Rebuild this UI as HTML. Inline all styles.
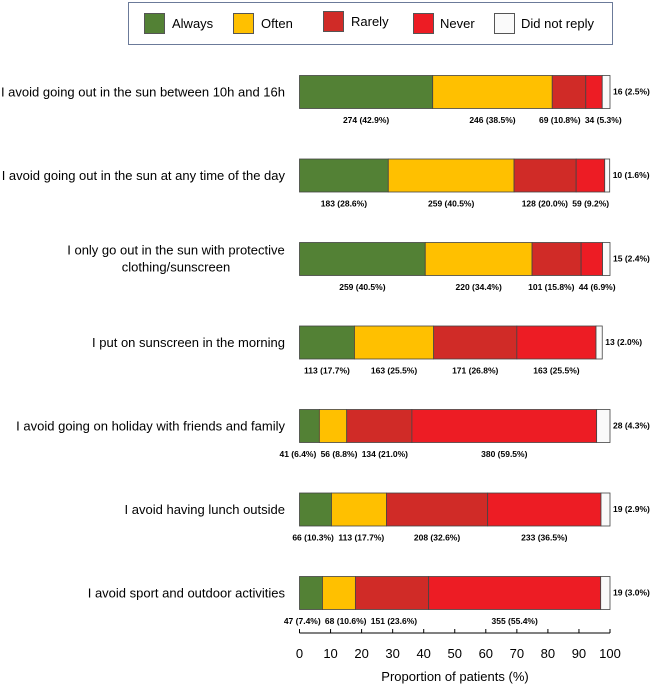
<!DOCTYPE html>
<html><head><meta charset="utf-8">
<style>
html,body{margin:0;padding:0;background:#fff;}
svg{display:block;font-family:"Liberation Sans",Arial,sans-serif;}
</style></head>
<body>
<svg id="chart" width="650" height="686" viewBox="0 0 650 686" xmlns="http://www.w3.org/2000/svg">
  <g>
    <rect x="128.5" y="2.5" width="484" height="42" fill="#fff" stroke="#6b7a99" stroke-width="1"/>
    <g><rect x="144.5" y="13.5" width="20" height="20" fill="#538135" stroke="#555"/><text x="172" y="28" font-size="13">Always</text></g>
    <g><rect x="233.5" y="13.5" width="20" height="20" fill="#FFC000" stroke="#555"/><text x="261" y="28" font-size="13">Often</text></g>
    <g><rect x="323.5" y="11.5" width="20" height="20" fill="#D02B27" stroke="#555"/><text x="351" y="26" font-size="13">Rarely</text></g>
    <g><rect x="413.5" y="13.5" width="20" height="20" fill="#ED1C24" stroke="#555"/><text x="440" y="28" font-size="13">Never</text></g>
    <g><rect x="494.5" y="13.5" width="20" height="20" fill="#fafafa" stroke="#555"/><text x="521" y="28" font-size="13">Did not reply</text></g>
  </g>
  <g id="bars"></g>
  <g id="axis"></g>
  <text x="455" y="681" font-size="13" text-anchor="middle">Proportion of patients (%)</text>
</svg>
<script>
const categories = [
  ["I avoid going out in the sun between 10h and 16h"],
  ["I avoid going out in the sun at any time of the day"],
  ["I only go out in the sun with protective","clothing/sunscreen"],
  ["I put on sunscreen in the morning"],
  ["I avoid going on holiday with friends and family"],
  ["I avoid having lunch outside"],
  ["I avoid sport and outdoor activities"]
];
const seriesNames = ["always","often","rarely","never","did-not-reply"];
const always = [42.9,28.6,40.5,17.7,6.4,10.3,7.4];
const often = [38.5,40.5,34.4,25.5,8.8,17.7,10.6];
const rarely = [10.8,20.0,15.8,26.8,21.0,32.6,23.6];
const never = [5.3,9.2,6.9,25.5,59.5,36.5,55.4];
const noReply = [2.5,1.6,2.4,2.0,4.3,2.9,3.0];
const countAlways = [274,183,259,113,41,66,47];
const countOften = [246,259,220,163,56,113,68];
const countRarely = [69,128,101,171,134,208,151];
const countNever = [34,59,44,163,380,233,355];
const countNoReply = [16,10,15,13,28,19,19];
const ticks = [0,10,20,30,40,50,60,70,80,90,100];

const colors = ["#538135","#FFC000","#D02B27","#ED1C24","#fafafa"];
const NS = "http://www.w3.org/2000/svg";
const x0 = 299.5, x1 = 610;
const xs = v => x0 + (x1 - x0) * v / 100;
const rowTop = i => 75 + i * 83.5;
const barH = 33;
const bars = document.getElementById('bars');
const axis = document.getElementById('axis');
function mk(tag, attrs, parent){const e=document.createElementNS(NS,tag);for(const k in attrs)e.setAttribute(k,attrs[k]);parent.appendChild(e);return e;}
function tw(s){let w=0;for(const c of s){if(/[0-9]/.test(c))w+=4.75;else if(c==='%')w+=7.6;else if(c==='('||c===')')w+=2.85;else w+=2.4;}return w;}

const vals = [always, often, rarely, never, noReply];
const counts = [countAlways, countOften, countRarely, countNever, countNoReply];

categories.forEach((cat, i) => {
  const top = rowTop(i);
  const g = mk('g', {}, bars);
  
  
  // category label
  const cy = top + barH/2;
  if (cat.length === 1) {
    const t = mk('text', {x: 285, y: cy + 5, 'font-size': 13, 'text-anchor': 'end'}, g);
    t.textContent = cat[0];
    
    
  } else {
    cat.forEach((line, k) => {
      const t = mk('text', {x: 176, y: cy - 4 + k*17, 'font-size': 13, 'text-anchor': 'middle'}, g);
      t.textContent = line;
      
      
    });
  }
  let cum = 0;
  const labels = [];
  for (let s = 0; s < 5; s++) {
    const v = vals[s][i];
    const r = mk('rect', {x: xs(cum), y: top + 0.5, width: xs(cum+v) - xs(cum), height: barH, fill: colors[s], stroke: '#444', 'stroke-width': 0.8}, g);
    
    
    const txt = counts[s][i] + ' (' + v.toFixed(1) + '%)';
    if (s < 4) labels.push({txt, c: xs(cum + v/2), w: tw(txt)});
    else {
      const t = mk('text', {x: xs(cum+v) + 3, y: cy + 3, 'font-size': 8.5, 'font-weight': 'bold'}, g);
      t.textContent = txt;
      
      
    }
    cum += v;
  }
  // resolve overlaps
  for (let it = 0; it < 30; it++) {
    for (let k = 1; k < labels.length; k++) {
      const a = labels[k-1], b = labels[k];
      const ov = (a.c + a.w/2 + 4) - (b.c - b.w/2);
      if (ov > 0) { a.c -= ov/2; b.c += ov/2; }
    }
  }
  labels.forEach((l, k) => {
    const t = mk('text', {x: l.c, y: top + barH + 15, 'font-size': 8.5, 'font-weight': 'bold', 'text-anchor': 'middle'}, g);
    t.textContent = l.txt;
    
    
  });
});

const ay = 633;
const al = mk('line', {x1: xs(0), x2: xs(100), y1: ay, y2: ay, stroke: '#000', 'stroke-width': 1}, axis);


ticks.forEach(t => {
  const tk = mk('line', {x1: xs(t), x2: xs(t), y1: ay - 4, y2: ay, stroke: '#000', 'stroke-width': 1}, axis);
  
  
  const lb = mk('text', {x: xs(t), y: 658, 'font-size': 13, 'text-anchor': 'middle'}, axis);
  lb.textContent = t;
  
  
});
</script>
</body></html>
